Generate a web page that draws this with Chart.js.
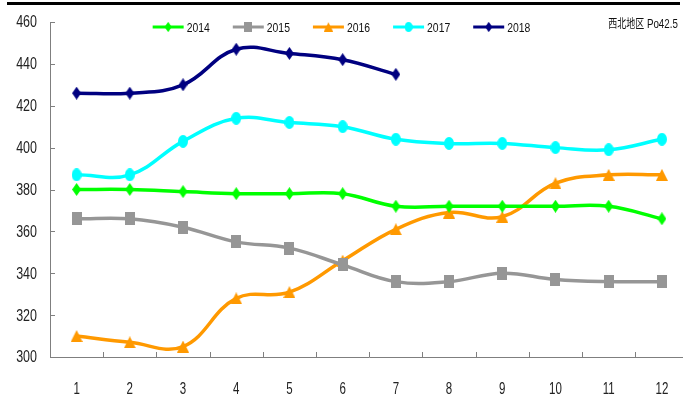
<!DOCTYPE html>
<html>
<head>
<meta charset="utf-8">
<script src="https://cdn.jsdelivr.net/npm/chart.js@4/dist/chart.umd.min.js"></script>
<style>
  html, body { margin: 0; padding: 0; background: #fff; overflow: hidden; }
  #wrap { position: relative; width: 683px; height: 412px; overflow: hidden; }
  #c { position: absolute; left: 0; top: 0; }
  #topline { position: absolute; left: 7px; top: 2px; width: 673px; height: 3px; background: #000; }
  #note { position: absolute; right: 5px; top: 14px; font: 12px "Noto Sans CJK SC", "Liberation Sans", sans-serif; color: #111; transform: scaleX(0.75); transform-origin: right center; white-space: nowrap; }
  #note .lat { font-family: "Liberation Sans", sans-serif; font-size: 13px; }
</style>
</head>
<body>
<div id="wrap">
  <canvas id="c" width="698" height="412"></canvas>
  <div id="topline"></div>
  <div id="note">西北地区<span class="lat"> Po42.5</span></div>
</div>
<script>
const categories = ['1','2','3','4','5','6','7','8','9','10','11','12'];
const seriesNames = ['2014','2015','2016','2017','2018'];
const s2014 = [380, 380, 379, 378, 378, 378, 372, 372, 372, 372, 372, 366];
const s2015 = [366, 366, 362, 355, 352, 344, 336, 336, 340, 337, 336, 336];
const s2016 = [310, 307, 305, 328, 331, 346, 361, 369, 367, 383, 387, 387];
const s2017 = [387, 387, 403, 414, 412, 410, 404, 402, 402, 400, 399, 404];
const s2018 = [426, 426, 430, 447, 445, 442, 435];
const yTicks = [300, 320, 340, 360, 380, 400, 420, 440, 460];

const colors = ['#00ff00', '#969696', '#ff9900', '#00ffff', '#000080'];
const VISIBLE_WIDTH = 683;

function marker(shape, w, h, color) {
  const cv = document.createElement('canvas');
  cv.width = w; cv.height = h;
  const g = cv.getContext('2d');
  g.fillStyle = color;
  g.beginPath();
  if (shape === 'diamond') {
    g.moveTo(w/2, 0); g.lineTo(w, h/2); g.lineTo(w/2, h); g.lineTo(0, h/2);
  } else if (shape === 'square') {
    g.rect(0, 0, w, h);
  } else if (shape === 'triangle') {
    g.moveTo(w/2, 0); g.lineTo(w, h); g.lineTo(0, h);
  } else {
    g.ellipse(w/2, h/2, w/2, h/2, 0, 0, Math.PI*2);
  }
  g.closePath();
  g.fill();
  return cv;
}

const markers = [
  marker('diamond', 9, 13, colors[0]),
  marker('square', 10, 13, colors[1]),
  marker('triangle', 12, 12, colors[2]),
  marker('ellipse', 10, 13, colors[3]),
  marker('diamond', 9, 13, colors[4])
];

const dataSeries = [s2014, s2015, s2016, s2017, s2018];
const datasets = dataSeries.map((d, i) => ({
  label: seriesNames[i],
  data: d,
  borderColor: colors[i],
  backgroundColor: colors[i],
  borderWidth: 3.5,
  tension: 0.4,
  pointStyle: markers[i],
  pointRadius: 6,
  pointHoverRadius: 6,
  fill: false
}));

const sans = '"Liberation Sans", Arial, sans-serif';

function condensedText(ctx, text, x, y, align, sx) {
  ctx.save();
  ctx.translate(x, y);
  ctx.scale(sx, 1);
  ctx.textAlign = align;
  ctx.fillText(text, 0, 0);
  ctx.restore();
}

const decor = {
  id: 'decor',
  afterDraw(chart) {
    const ctx = chart.ctx;
    const xs = chart.scales.x, ys = chart.scales.y;
    const a = chart.chartArea;
    ctx.save();
    ctx.strokeStyle = '#7f7f7f';
    ctx.lineWidth = 1;
    ys.ticks.forEach(t => {
      const y = Math.round(ys.getPixelForValue(t.value)) + 0.5;
      ctx.beginPath(); ctx.moveTo(a.left, y); ctx.lineTo(a.left + 5, y); ctx.stroke();
    });
    for (let i = 0; i < categories.length - 1; i++) {
      const x = Math.round((xs.getPixelForValue(i) + xs.getPixelForValue(i + 1)) / 2) + 0.5;
      ctx.beginPath(); ctx.moveTo(x, a.bottom); ctx.lineTo(x, a.bottom - 5); ctx.stroke();
    }
    ctx.fillStyle = '#222';
    ctx.textBaseline = 'middle';
    ctx.font = '16px ' + sans;
    ys.ticks.forEach(t => {
      condensedText(ctx, String(t.value), a.left - 13, ys.getPixelForValue(t.value) + 1, 'right', 0.78);
    });
    categories.forEach((c, i) => {
      condensedText(ctx, c, xs.getPixelForValue(i), a.bottom + 33, 'center', 0.72);
    });
    ctx.font = '13px ' + sans;
    const lineLen = 31, gapText = 3, itemGap = 23, sx = 0.8;
    const widths = chart.data.datasets.map(ds => lineLen + gapText + ctx.measureText(ds.label).width * sx);
    const total = widths.reduce((s, w) => s + w, 0) + itemGap * (widths.length - 1);
    let x = VISIBLE_WIDTH / 2 - total / 2;
    const ly = 27;
    chart.data.datasets.forEach((ds, i) => {
      ctx.strokeStyle = ds.borderColor;
      ctx.lineWidth = 3;
      ctx.beginPath(); ctx.moveTo(x, ly); ctx.lineTo(x + lineLen, ly); ctx.stroke();
      const m = ds.pointStyle;
      const mw = m.width * 0.8, mh = m.height * 0.8;
      ctx.drawImage(m, x + lineLen / 2 - mw / 2, ly - mh / 2, mw, mh);
      ctx.fillStyle = '#111';
      condensedText(ctx, ds.label, x + lineLen + gapText, ly + 1, 'left', sx);
      x += widths[i] + itemGap;
    });
    ctx.restore();
  }
};

new Chart(document.getElementById('c'), {
  type: 'line',
  data: { labels: categories, datasets },
  options: {
    responsive: false,
    animation: false,
    layout: { padding: { top: 22, right: 0, left: 0, bottom: 0 } },
    plugins: { legend: { display: false }, tooltip: { enabled: false } },
    scales: {
      x: {
        offset: true,
        grid: { display: false, drawTicks: false },
        border: { display: true, color: '#7f7f7f', width: 1 },
        ticks: { display: false },
        afterFit(s) { s.height = 55; s.paddingLeft = 0; s.paddingRight = 0; }
      },
      y: {
        min: 300, max: 460,
        afterBuildTicks(s) { s.ticks = yTicks.map(v => ({ value: v })); },
        grid: { display: false, drawTicks: false },
        border: { display: true, color: '#7f7f7f', width: 1 },
        ticks: { display: false },
        afterFit(s) { s.width = 50; s.paddingTop = 0; s.paddingBottom = 0; }
      }
    }
  },
  plugins: [decor]
});
</script>
</body>
</html>
